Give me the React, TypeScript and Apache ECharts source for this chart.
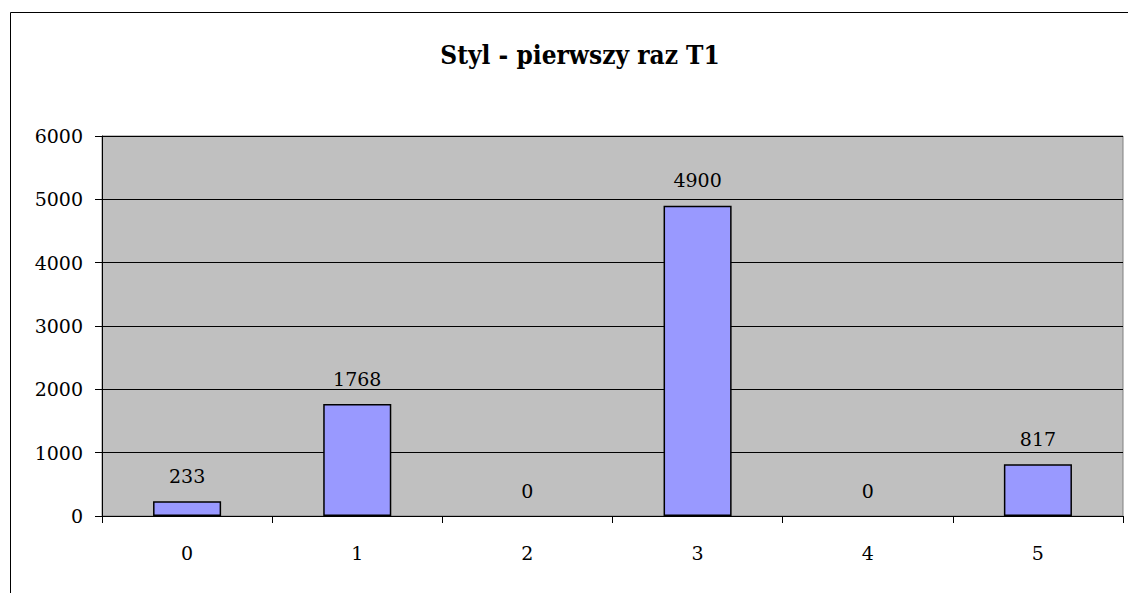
import React, { useEffect, useRef } from "react";
import * as echarts from "echarts";

const categories = ["0", "1", "2", "3", "4", "5"];
const values = [233, 1768, 0, 4900, 0, 817];
const titleText = "Styl - pierwszy raz T1";

export default function App() {
  const ref = useRef<HTMLDivElement>(null);
  useEffect(() => {
    if (!ref.current) return;
    const chart = echarts.init(ref.current, null, { renderer: "svg" });
    const font = "DejaVu Serif";
    chart.setOption({
      animation: false,
      backgroundColor: "#fff",
      title: {
        text: titleText,
        left: 575,
        textAlign: "center",
        top: 37,
        textStyle: { fontFamily: "DejaVu Serif Condensed", fontWeight: "bold", fontSize: 26, color: "#000" },
      },
      grid: {
        left: 102,
        top: 136,
        right: 5,
        bottom: 77,
        show: true,
        backgroundColor: "#C0C0C0",
        borderColor: "#808080",
        borderWidth: 1,
      },
      xAxis: {
        type: "category",
        data: categories,
        axisLine: { lineStyle: { color: "#000", width: 1 } },
        axisTick: { show: true, length: 7, lineStyle: { color: "#000" } },
        axisLabel: { fontFamily: font, fontSize: 19, color: "#000", margin: 27 },
      },
      yAxis: {
        type: "value",
        min: 0,
        max: 6000,
        interval: 1000,
        axisLine: { show: true, lineStyle: { color: "#000", width: 1 } },
        axisTick: { show: true, length: 7, lineStyle: { color: "#000" } },
        axisLabel: {
          fontFamily: font,
          fontSize: 19,
          color: "#000",
          margin: 19,
          formatter: (v: number) => String(v),
        },
        splitLine: { show: true, lineStyle: { color: "#000", width: 1 } },
      },
      series: [
        {
          type: "bar",
          data: values.map((v) =>
            v === 0 ? { value: v, itemStyle: { borderWidth: 0 } } : v
          ),
          barWidth: "40%",
          itemStyle: { color: "#9999FF", borderColor: "#000", borderWidth: 1.5 },
          label: {
            show: true,
            position: "top",
            distance: 16,
            fontFamily: font,
            fontSize: 19,
            color: "#000",
          },
        },
      ],
      graphic: [
        {
          type: "rect",
          shape: { x: 10.5, y: 12.5, width: 1300, height: 800 },
          style: { fill: "none", stroke: "#000", lineWidth: 1 },
          silent: true,
        },
      ],
    });
    return () => chart.dispose();
  }, []);
  return (
    <div
      ref={ref}
      style={{ position: "fixed", left: 0, top: 0, width: 1128, height: 593 }}
    />
  );
}
